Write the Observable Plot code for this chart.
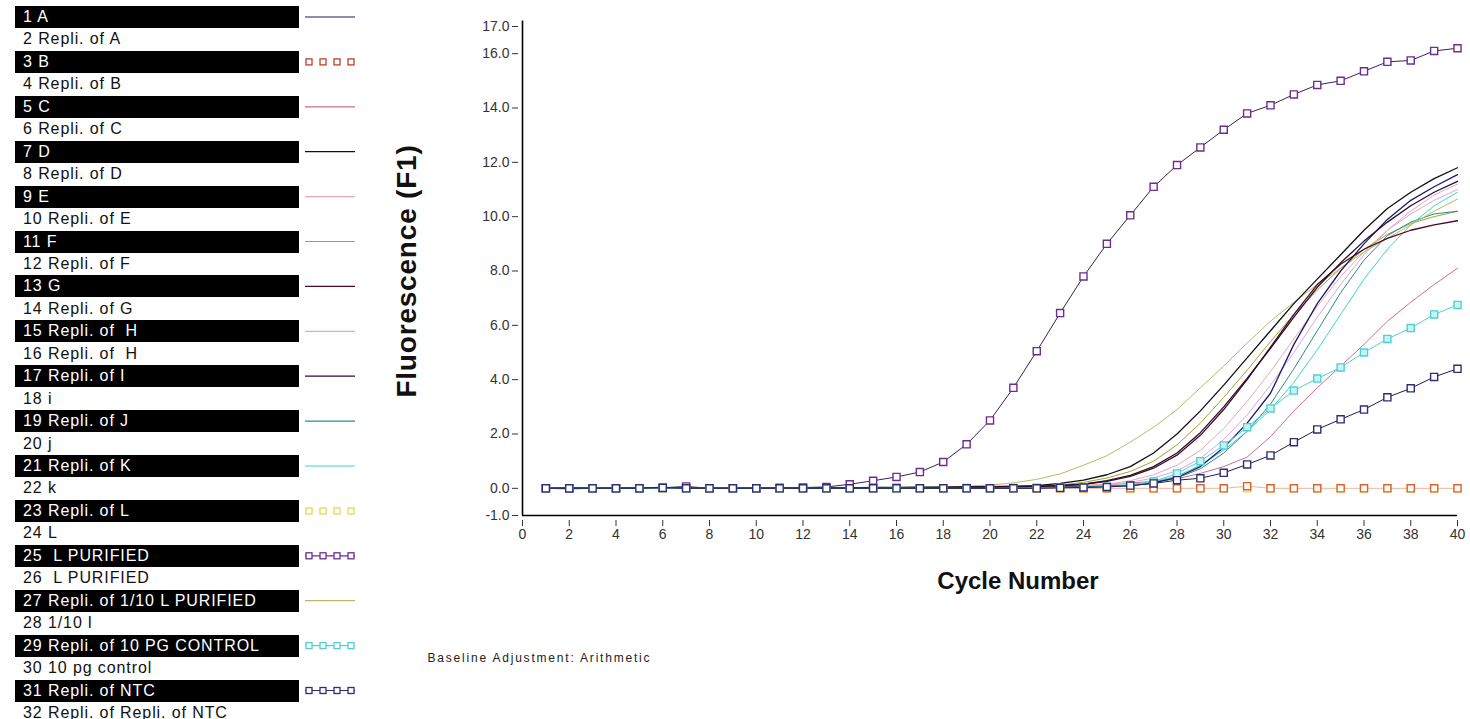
<!DOCTYPE html>
<html><head><meta charset="utf-8">
<script src="https://cdn.jsdelivr.net/npm/d3@7"></script>
<script src="https://cdn.jsdelivr.net/npm/@observablehq/plot@0.6"></script>
<style>
body{margin:0;background:#fff;width:1470px;height:719px;overflow:hidden;position:relative;font-family:"Liberation Sans",Arial,sans-serif;}
#legend{position:absolute;left:0;top:0;width:370px;height:719px;}
.row{position:absolute;left:15px;width:284px;height:22px;font-size:16px;line-height:22px;letter-spacing:0.9px;white-space:pre;padding-left:8px;box-sizing:border-box;color:#111;}
.row.dark{background:#000;color:#fff;}
#swatches{position:absolute;left:0;top:0;}
#chart{position:absolute;left:380px;top:0;}
</style></head>
<body>
<div id="legend"></div>
<div id="chart"></div>
<script>
const cycles = [1,2,3,4,5,6,7,8,9,10,11,12,13,14,15,16,17,18,19,20,21,22,23,24,25,26,27,28,29,30,31,32,33,34,35,36,37,38,39,40];

const legendLabels = ["1 A","2 Repli. of A","3 B","4 Repli. of B","5 C","6 Repli. of C","7 D","8 Repli. of D","9 E","10 Repli. of E","11 F","12 Repli. of F","13 G","14 Repli. of G","15 Repli. of  H","16 Repli. of  H","17 Repli. of I","18 i","19 Repli. of J","20 j","21 Repli. of K","22 k","23 Repli. of L","24 L","25  L PURIFIED","26  L PURIFIED","27 Repli. of 1/10 L PURIFIED","28 1/10 l","29 Repli. of 10 PG CONTROL","30 10 pg control","31 Repli. of NTC","32 Repli. of Repli. of NTC"];

const seriesKeys = ["1 A","3 B","5 C","7 D","9 E","11 F","13 G","15 Repli. of  H","17 Repli. of I","19 Repli. of J","21 Repli. of K","23 Repli. of L","25  L PURIFIED","27 Repli. of 1/10 L PURIFIED","29 Repli. of 10 PG CONTROL","31 Repli. of NTC"];
const seriesColors = ["#1b1b6b","#e0602c","#c9708e","#111111","#e3a9b9","#a3a334","#4d0a28","#dba6e2","#2a0d2a","#2e8b8b","#3fd3d6","#ecd84a","#6b2d8f","#b9b86a","#52d0d0","#2e2e78"];
const seriesStyle = ["line","square","line","line","line","line","line","line","line","line","line","square","lineSquare","line","lineSquare","lineSquare"];

const seriesA   = [0.00,0.01,0.00,0.00,0.02,0.03,0.01,0.00,0.00,0.01,0.00,0.00,0.01,0.00,0.00,0.01,0.02,0.00,0.01,0.02,0.02,0.03,0.04,0.05,0.07,0.10,0.20,0.40,0.80,1.50,2.40,3.50,5.30,6.80,8.00,9.00,9.90,10.60,11.10,11.55];
const seriesB   = [0.00,0.00,0.00,0.00,0.00,0.00,0.00,0.00,0.00,0.00,0.00,0.00,0.00,0.00,0.00,0.02,0.00,0.00,0.00,0.00,0.00,0.00,0.00,0.00,0.00,0.00,0.00,0.00,0.00,0.00,0.08,0.00,0.00,0.00,0.00,0.00,0.00,0.00,0.00,0.00];
const seriesC   = [0.00,0.00,0.01,0.00,0.00,0.01,0.00,0.00,0.00,0.00,0.01,0.00,0.00,0.00,0.01,0.00,0.00,0.00,0.01,0.02,0.03,0.05,0.07,0.10,0.14,0.19,0.26,0.35,0.55,0.80,1.15,1.90,2.85,3.70,4.50,5.30,6.15,6.85,7.50,8.10];
const seriesD   = [0.00,0.00,0.00,0.01,0.00,0.00,0.00,0.01,0.00,0.00,0.00,0.01,0.02,0.02,0.03,0.03,0.04,0.04,0.05,0.06,0.08,0.10,0.18,0.30,0.50,0.80,1.30,2.00,2.85,3.80,4.80,5.80,6.80,7.70,8.60,9.50,10.30,10.90,11.40,11.80];
const seriesE   = [0.00,0.00,0.00,0.00,0.00,0.00,0.00,0.00,0.00,0.00,0.00,0.00,0.00,0.00,0.00,0.01,0.01,0.02,0.02,0.03,0.04,0.05,0.07,0.10,0.15,0.28,0.50,0.85,1.40,2.20,3.20,4.30,5.50,6.70,7.80,8.70,9.50,10.10,10.60,11.00];
const seriesF   = [0.00,0.00,0.00,0.00,0.00,0.00,0.00,0.00,0.00,0.00,0.00,0.00,0.00,0.00,0.01,0.01,0.02,0.03,0.04,0.05,0.06,0.08,0.12,0.22,0.38,0.62,1.00,1.60,2.40,3.35,4.35,5.40,6.40,7.30,8.10,8.80,9.35,9.75,10.00,10.20];
const seriesG   = [0.00,0.01,0.00,0.00,0.00,0.00,0.00,0.00,0.00,0.00,0.00,0.00,0.00,0.00,0.01,0.01,0.02,0.03,0.04,0.05,0.06,0.08,0.10,0.15,0.26,0.44,0.74,1.22,1.95,2.90,4.00,5.20,6.40,7.50,8.25,8.80,9.20,9.50,9.70,9.85];
const seriesH   = [0.00,0.00,0.00,0.00,0.00,0.00,0.00,0.00,0.00,0.00,0.00,0.00,0.00,0.00,0.00,0.00,0.00,0.00,0.01,0.02,0.03,0.04,0.06,0.08,0.12,0.22,0.38,0.65,1.10,1.80,2.70,3.80,5.00,6.30,7.50,8.60,9.50,10.20,10.80,11.20];
const seriesI   = [0.00,0.00,0.01,0.00,0.00,0.00,0.01,0.00,0.00,0.00,0.00,0.00,0.01,0.00,0.00,0.01,0.01,0.02,0.03,0.04,0.05,0.07,0.10,0.15,0.28,0.48,0.80,1.30,2.05,3.00,4.05,5.15,6.30,7.40,8.30,9.10,9.80,10.40,10.90,11.30];
const seriesJ   = [0.00,0.00,0.00,0.00,0.00,0.00,0.00,0.00,0.00,0.00,0.00,0.00,0.00,0.00,0.00,0.00,0.00,0.01,0.01,0.01,0.02,0.03,0.04,0.05,0.07,0.10,0.20,0.38,0.72,1.30,2.10,3.10,4.40,5.80,7.20,8.40,9.30,9.80,10.10,10.20];
const seriesK   = [0.00,0.00,0.00,0.00,0.00,0.00,0.00,0.00,0.00,0.00,0.00,0.00,0.00,0.00,0.00,0.00,0.00,0.00,0.00,0.01,0.01,0.02,0.03,0.05,0.08,0.14,0.25,0.45,0.85,1.40,2.10,2.90,3.90,5.10,6.40,7.70,8.80,9.70,10.40,10.90];
const seriesL   = [0.00,0.00,0.00,0.00,0.00,0.00,0.00,0.00,0.00,0.00,0.00,0.00,0.00,0.00,0.00,0.00,0.00,0.00,0.02,0.00,0.00,0.00,0.00,0.00,0.00,0.00,0.00,0.00,0.00,0.00,0.00,0.00,0.00,0.00,0.00,0.00,0.00,0.00,0.00,0.00];
const seriesLP  = [0.00,-0.02,0.00,0.00,0.00,0.02,0.07,0.00,0.00,0.00,0.02,0.03,0.05,0.15,0.28,0.42,0.60,0.97,1.62,2.50,3.70,5.05,6.45,7.80,9.00,10.05,11.10,11.90,12.55,13.20,13.80,14.10,14.50,14.85,15.00,15.35,15.70,15.75,16.10,16.20];
const seriesLP10= [0.00,0.00,0.00,0.00,0.00,0.00,0.00,0.00,0.00,0.00,0.01,0.01,0.02,0.02,0.03,0.03,0.04,0.05,0.08,0.12,0.20,0.33,0.53,0.85,1.20,1.70,2.25,2.90,3.70,4.50,5.35,6.15,6.85,7.50,8.10,8.70,9.20,9.70,10.20,10.65];
const seriesPG  = [0.00,0.00,0.00,0.00,0.00,0.00,0.00,0.00,0.00,0.00,0.00,0.00,0.00,0.00,0.00,0.00,0.00,0.00,0.00,0.00,0.01,0.02,0.03,0.04,0.06,0.10,0.25,0.55,1.00,1.58,2.25,2.94,3.60,4.04,4.45,5.00,5.50,5.90,6.40,6.75];
const seriesNTC = [0.00,0.00,0.00,0.00,0.00,0.02,0.00,0.00,0.00,0.00,0.00,0.00,0.00,0.00,0.00,0.00,0.00,0.00,0.00,0.00,0.00,0.00,0.02,0.03,0.05,0.10,0.18,0.30,0.37,0.57,0.88,1.21,1.70,2.17,2.54,2.90,3.35,3.68,4.10,4.40];

const seriesValues = [seriesA,seriesB,seriesC,seriesD,seriesE,seriesF,seriesG,seriesH,seriesI,seriesJ,seriesK,seriesL,seriesLP,seriesLP10,seriesPG,seriesNTC];

const xTicks = [0,2,4,6,8,10,12,14,16,18,20,22,24,26,28,30,32,34,36,38,40];
const yTicks = [-1,0,2,4,6,8,10,12,14,16,17];

// ---------- legend ----------
const legend = document.getElementById("legend");
const NS = "http://www.w3.org/2000/svg";
const sw = document.createElementNS(NS, "svg");
sw.setAttribute("id","swatches"); sw.setAttribute("width",370); sw.setAttribute("height",719);
legend.appendChild(sw);
const pitch = 22.45, top0 = 6;
legendLabels.forEach((lab, i) => {
  const row = document.createElement("div");
  row.className = "row" + (i % 2 === 0 ? " dark" : "");
  row.style.top = (top0 + i * pitch) + "px";
  row.textContent = lab;
  legend.appendChild(row);
});
seriesKeys.forEach((k, j) => {
  const cy = top0 + (2 * j) * pitch + 11;
  const col = k === "3 B" ? "#b8402c" : seriesColors[j], st = seriesStyle[j];
  if (st !== "square") {
    const l = document.createElementNS(NS, "line");
    l.setAttribute("x1", 305); l.setAttribute("x2", 355);
    l.setAttribute("y1", cy); l.setAttribute("y2", cy);
    l.setAttribute("stroke", col); l.setAttribute("stroke-width", 1.2);
    sw.appendChild(l);
  }
  if (st !== "line") {
    [309, 323, 337, 351].forEach(x => {
      const r = document.createElementNS(NS, "rect");
      r.setAttribute("x", x - 3); r.setAttribute("y", cy - 3);
      r.setAttribute("width", 6); r.setAttribute("height", 6);
      r.setAttribute("fill", "#fff"); r.setAttribute("stroke", col); r.setAttribute("stroke-width", 1.3);
      sw.appendChild(r);
    });
  }
});

// ---------- chart ----------
const rows = [];
seriesKeys.forEach((k, j) => seriesValues[j].forEach((v, c) => rows.push({series: k, cycle: cycles[c], value: v, style: seriesStyle[j]})));
const darkKeys = ["1 A","7 D","13 G","17 Repli. of I"];
const lineRows = rows.filter(d => d.style === "line" && !darkKeys.includes(d.series));
const darkRows = rows.filter(d => darkKeys.includes(d.series));
const squareOnly = rows.filter(d => d.style === "square");
const lineSquare = rows.filter(d => d.style === "lineSquare");
const bRows = rows.filter(d => d.series === "3 B");

const chart = Plot.plot({
  width: 1090, height: 719,
  marginLeft: 142, marginRight: 13, marginTop: 26, marginBottom: 204,
  style: {fontFamily: "Liberation Sans, Arial, sans-serif", fontSize: "14px", color: "#333", background: "transparent", overflow: "visible"},
  x: {domain: [0, 40]},
  y: {domain: [-1, 17]},
  color: {domain: seriesKeys, range: seriesColors},
  marks: [
    Plot.axisY({ticks: yTicks, tickFormat: d => d.toFixed(1), tickSize: 6, tickPadding: 3, dx: -4, label: null, fontSize: 14}),
    Plot.axisX({ticks: xTicks, tickSize: 6, tickPadding: 3, dy: 5, label: null, fontSize: 14}),
    Plot.ruleX([0], {y1: -1, y2: 17.2, stroke: "#000", strokeWidth: 1.6}),
    Plot.ruleY([-1], {stroke: "#000", strokeWidth: 1.6}),
    Plot.line(lineRows, {x: "cycle", y: "value", z: "series", stroke: "series", strokeWidth: 1}),
    Plot.line(darkRows, {x: "cycle", y: "value", z: "series", stroke: "series", strokeWidth: 1.3}),
    Plot.line(bRows, {x: "cycle", y: "value", stroke: "series", strokeWidth: 0.8, strokeOpacity: 0.6}),
    Plot.dot(squareOnly.filter(d => d.series !== "3 B"), {x: "cycle", y: "value", symbol: "square", r: 4, stroke: "series", fill: "#fff", strokeWidth: 1.3}),
    Plot.dot(bRows, {x: "cycle", y: "value", symbol: "square", r: 4, stroke: "series", fill: "#fff", strokeWidth: 1.4}),
    Plot.line(lineSquare, {x: "cycle", y: "value", z: "series", stroke: d => d.series === "25  L PURIFIED" ? "#3d1f55" : d.series === "31 Repli. of NTC" ? "#1f1f4f" : "#52d0d0", strokeWidth: 1}),
    Plot.dot(lineSquare, {x: "cycle", y: "value", symbol: "square", r: 4, stroke: "series", fill: d => d.series === "29 Repli. of 10 PG CONTROL" ? "#c8f4f4" : "#fff", strokeWidth: 1.4}),
    Plot.text(["Fluorescence (F1)"], {text: d => d, frameAnchor: "left", textAnchor: "middle", dx: -115, rotate: -90, fontSize: 28, fontWeight: "bold", fill: "#111"}),
    Plot.text(["Cycle Number"], {text: d => d, frameAnchor: "bottom", dx: 28, dy: 73, fontSize: 24, fontWeight: "bold", fill: "#111"}),
    Plot.text(["Baseline Adjustment: Arithmetic"], {text: d => d, frameAnchor: "bottom-left", dx: -95, dy: 146, textAnchor: "start", fontSize: 12, fill: "#222"})
  ]
});
chart.querySelectorAll("text").forEach(t => {
  if (t.textContent === "Baseline Adjustment: Arithmetic") t.style.letterSpacing = "1.8px";
  if (t.textContent === "Fluorescence (F1)") t.style.letterSpacing = "0.8px";
});
document.getElementById("chart").appendChild(chart);
</script>
</body></html>
